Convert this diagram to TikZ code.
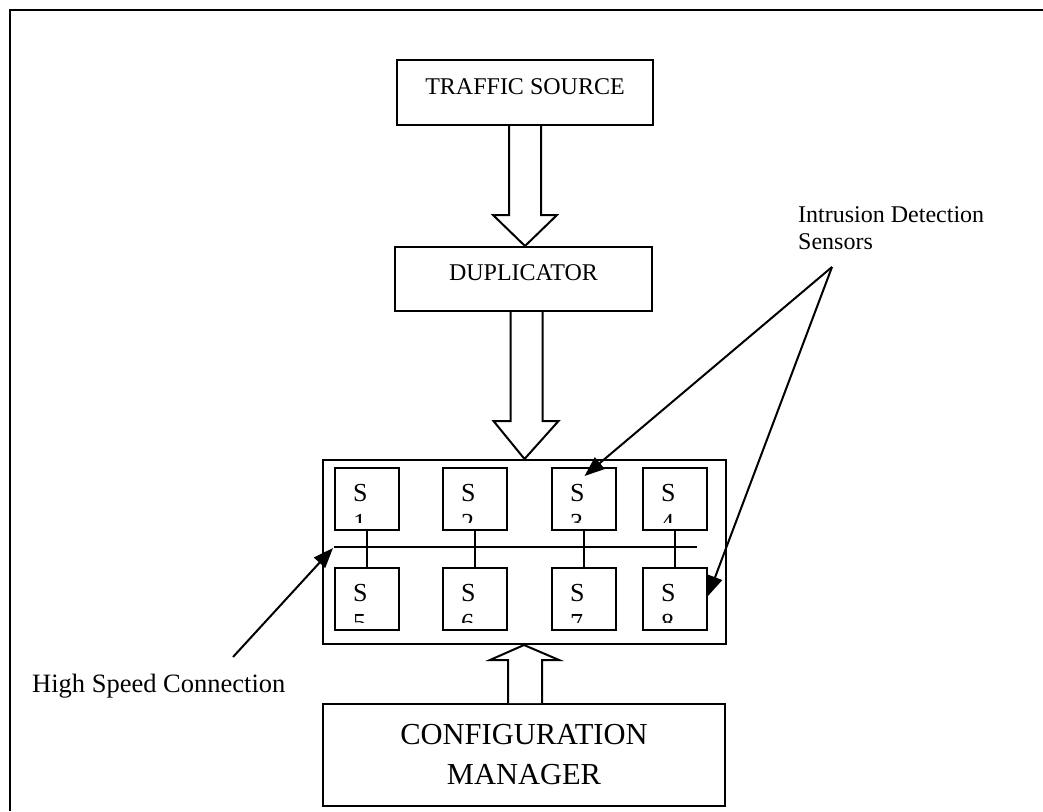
\documentclass[tikz,border=0pt]{standalone}
\usepackage{fontspec}
\setmainfont{Liberation Serif}
\usetikzlibrary{calc,arrows.meta}
\tikzset{
  lw/.style={line width=2pt},
  box/.style={draw, lw, anchor=north west, inner xsep=0pt, inner ysep=0pt, align=center},
  blk/.style={draw, lw, fill=white, line join=miter},
  ptr/.style={lw, -{Triangle[length=20pt,width=15pt]}},
  lbl/.style={anchor=north west, inner sep=0pt, align=left},
  sensortext/.style={anchor=base west, inner sep=0pt, font=\fontsize{26}{30}\selectfont},
  sensor/.style={draw, lw, anchor=north west, inner sep=0pt,
    minimum width=64pt, minimum height=62pt}
}
\begin{document}
\begin{tikzpicture}[x=1pt,y=-1pt]
\useasboundingbox (0,0) rectangle (1043,811);
% outer frame (top and left only)
\draw[lw] (10,811) -- (10,10) -- (1043,10);

% main boxes
\node (ts) [box, minimum width=256pt, text height=34pt, text depth=31pt,
  font=\fontsize{24}{27}\selectfont] at (396,59) {TRAFFIC SOURCE};
\node (dup) [box, minimum width=257pt, text height=33pt, text depth=31pt,
  font=\fontsize{24}{27}\selectfont] at (394,246) {DUPLICATOR};
\node (grp) [draw, lw, anchor=north west, inner sep=0pt,
  minimum width=403pt, minimum height=184pt] at (322,459) {};
\node (cm) [box, minimum width=402pt, text height=80pt, text depth=22pt,
  font=\fontsize{30.5}{40}\selectfont] at (322,703) {CONFIGURATION\\MANAGER};

% sensors
\node (s1) [sensor] at (334,467) {};
\node (s2) [sensor] at (442,467) {};
\node (s3) [sensor] at (551,467) {};
\node (s4) [sensor] at (642,467) {};
\node (s5) [sensor] at (334,567) {};
\node (s6) [sensor] at (442,567) {};
\node (s7) [sensor] at (551,567) {};
\node (s8) [sensor] at (642,567) {};
\foreach \i in {1,...,8} {
  \begin{scope}
    \clip (s\i.north west) rectangle ($(s\i.south east)+(0,-9)$);
    \node (ta\i) [sensortext] at ($(s\i.north west)+(19,34)$) {S};
    \node (tb\i) [sensortext] at ($(s\i.north west)+(19,64)$) {\i};
  \end{scope}
}

% links and bus
\foreach \a/\b in {s1/s5,s2/s6,s3/s7,s4/s8}
  \draw[lw] (\a.south) -- (\b.north);
\coordinate (busL) at (334,547);
\coordinate (busR) at (697,547);
\draw[lw] (busL) -- (busR);

% block arrows
\draw[blk] ($(ts.south)+(-16,0)$) -- ($(ts.south |- dup.north)+(-16,-31)$)
  -- ($(ts.south |- dup.north)+(-32,-31)$) -- (ts.south |- dup.north)
  -- ($(ts.south |- dup.north)+(32,-31)$) -- ($(ts.south |- dup.north)+(16,-31)$)
  -- ($(ts.south)+(16,0)$);
\draw[blk] ($(dup.south)+(-13,0)$) -- ($(dup.south |- grp.north)+(-13,-38)$)
  -- ($(dup.south |- grp.north)+(-30,-38)$) -- ($(dup.south |- grp.north)+(1,0)$)
  -- ($(dup.south |- grp.north)+(35,-38)$) -- ($(dup.south |- grp.north)+(19,-38)$)
  -- ($(dup.south)+(19,0)$);
\draw[blk] ($(cm.north)+(-16,0)$) -- ($(cm.north |- grp.south)+(-16,15)$)
  -- ($(cm.north |- grp.south)+(-34,15)$) -- (cm.north |- grp.south)
  -- ($(cm.north |- grp.south)+(35,15)$) -- ($(cm.north |- grp.south)+(18,15)$)
  -- ($(cm.north)+(18,0)$);

% labels
\node (ids) [lbl, text height=43pt, font=\fontsize{24}{27}\selectfont]
  at (798,206) {Intrusion Detection\\Sensors};
\node (hsc) [lbl, text height=17.7pt, font=\fontsize{26.5}{30}\selectfont]
  at (32,675) {High Speed Connection};

% pointer arrows
\coordinate (idsrc) at (832,267);
\coordinate (hssrc) at (233,657);
\draw[ptr] (idsrc) -- ($(s3.north)+(0.5,9)$);
\draw[ptr] (idsrc) -- ($(s8.east)+(0,-3)$);
\draw[ptr] (hssrc) -- ($(busL)+(-1,1)$);
\end{tikzpicture}
\end{document}
